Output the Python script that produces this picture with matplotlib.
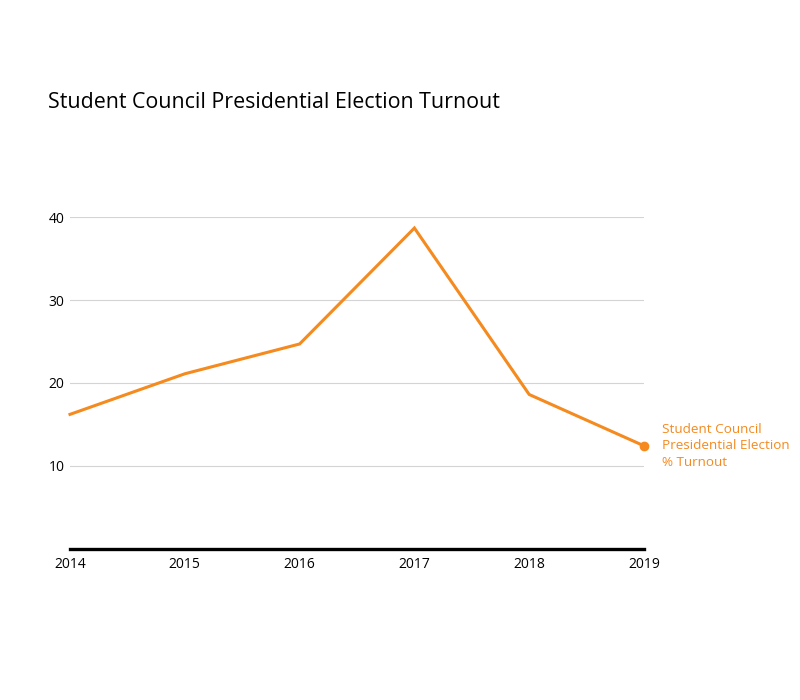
import matplotlib
matplotlib.use('Agg')
import matplotlib.pyplot as plt

plt.rcParams['font.family'] = ['Open Sans', 'DejaVu Sans']

years = [2014, 2015, 2016, 2017, 2018, 2019]
turnout = [16.2, 21.1, 24.7, 38.7, 18.6, 12.4]
yticks = [10, 20, 30, 40]
title = 'Student Council Presidential Election Turnout'
series_label = 'Student Council\nPresidential Election\n% Turnout'
orange = '#f58a1f'

fig = plt.figure(figsize=(8, 7), dpi=100)
ax = fig.add_axes([0.0875, 0.2164, 0.7175, 0.4732])

for y in yticks:
    ax.axhline(y, color='#d4d4d4', lw=0.8, zorder=1)
ax.axhline(0, color='black', lw=2.4, zorder=3, clip_on=False)

ax.plot(years, turnout, color=orange, lw=2.2, zorder=4, clip_on=False, solid_joinstyle='miter')
ax.plot(years[-1], turnout[-1], 'o', color=orange, ms=6, zorder=5, clip_on=False)
ax.text(years[-1] + 0.16, turnout[-1], series_label, color=orange, fontsize=9.7,
        va='center', ha='left', linespacing=1.35)

ax.set_xlim(years[0], years[-1])
ax.set_ylim(0, 40)
ax.set_yticks(yticks)
ax.set_xticks(years)
ax.set_xticklabels([str(y) for y in years])
ax.tick_params(length=0, labelsize=10, colors='black')
ax.tick_params(axis='y', pad=4)
ax.tick_params(axis='x', pad=6)
for s in ax.spines.values():
    s.set_visible(False)

fig.text(48 / 800, 1 - 103 / 700, title, fontsize=15.4, va='center', ha='left')

fig.savefig('out.png', dpi=100, facecolor='white')
